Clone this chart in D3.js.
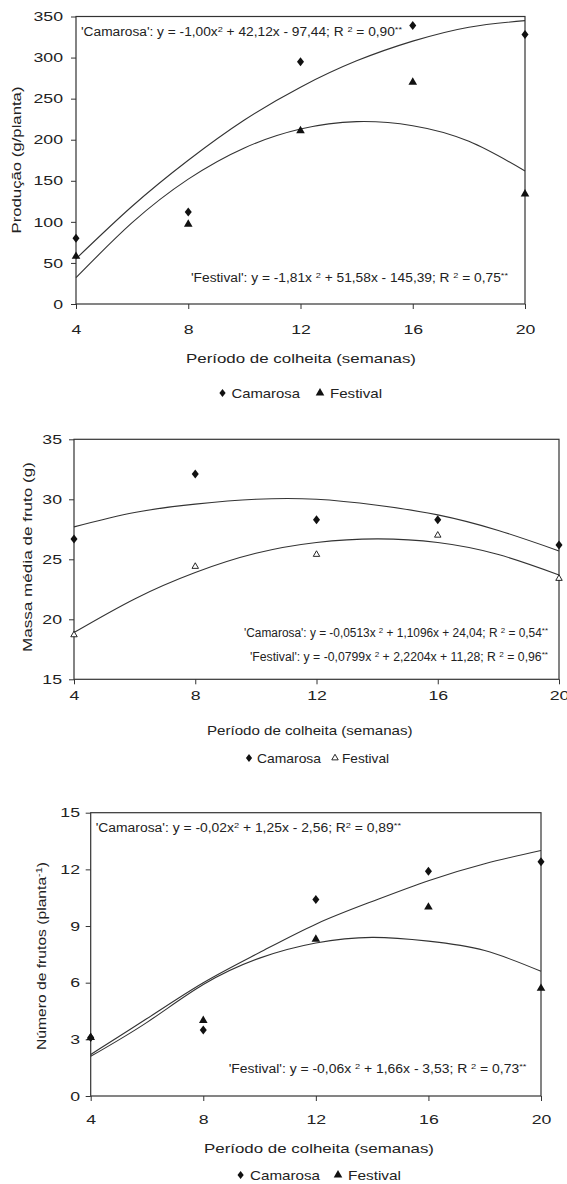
<!DOCTYPE html>
<html>
<head>
<meta charset="utf-8">
<script src="https://cdn.jsdelivr.net/npm/d3@7"></script>
<style>
  body { margin: 0; background: #fff; }
  svg text { font-family: "Liberation Sans", Arial, sans-serif; fill: #222; }
</style>
</head>
<body>
<svg id="chart" width="567" height="1184"></svg>
<script>
// weeks of harvest (x) and the points
const weeks = [4, 8, 12, 16, 20];
const fitWeeks = [4, 6, 8, 10, 12, 14, 16, 18, 20];
const xTicks = [4, 8, 12, 16, 20];

// Produção (g/planta)
const prodCamarosa = [80, 112, 295, 339, 328];
const prodFestival = [58, 97, 211, 270, 134];
const prodFitCamarosa = [55, 119, 175, 224, 264, 296, 320, 337, 345];
const prodFitFestival = [32, 99, 152, 190, 213, 222, 217, 198, 162];
const prodTicks = [0, 50, 100, 150, 200, 250, 300, 350];

// Massa média de fruto (g)
const massCamarosa = [26.7, 32.1, 28.3, 28.3, 26.2];
const massFestival = [18.7, 24.4, 25.4, 27.0, 23.4];
const massFitCamarosa = [27.7, 28.9, 29.6, 30.0, 30.0, 29.5, 28.7, 27.4, 25.7];
const massFitFestival = [18.9, 21.7, 23.9, 25.5, 26.4, 26.7, 26.4, 25.4, 23.7];
const massTicks = [15, 20, 25, 30, 35];

// Número de frutos (planta-1)
const fruitCamarosa = [3.1, 3.5, 10.4, 11.9, 12.4];
const fruitFestival = [3.1, 4.0, 8.3, 10.0, 5.7];
const fruitFitCamarosa = [2.2, 4.1, 6.0, 7.6, 9.1, 10.3, 11.4, 12.3, 13.0];
const fruitFitFestival = [2.1, 3.9, 5.9, 7.3, 8.1, 8.4, 8.2, 7.7, 6.6];
const fruitTicks = [0, 3, 6, 9, 12, 15];

const seriesNames = ['Camarosa', 'Festival'];
const xTitle = 'Período de colheita (semanas)';

// taller-than-wide diamond used by the original
const diamondTall = {
  draw(ctx, size) {
    let h = Math.sqrt(size) / 2;
    let w = h * 0.78;
    ctx.moveTo(0, -h);
    ctx.lineTo(w, 0);
    ctx.lineTo(0, h);
    ctx.lineTo(-w, 0);
    ctx.closePath();
  }
};

const svg = d3.select('#chart');

function stretch(sel, k) {
  sel.each(function () {
    let t = d3.select(this);
    t.attr('textLength', this.getComputedTextLength() * k)
      .attr('lengthAdjust', 'spacingAndGlyphs');
  });
}

function fit(t, w) {
  t.attr('textLength', w).attr('lengthAdjust', 'spacingAndGlyphs');
}

// text with superscripts; parts are strings or {s: 'sup'}
function rich_text(g, parts, size) {
  let t = g.append('text').style('font-size', size + 'px');
  let up = false;
  parts.forEach(p => {
    if (typeof p == 'string') {
      t.append('tspan').attr('dy', up ? 4 : 0).text(p);
      up = false;
    } else {
      t.append('tspan').attr('dy', up ? 0 : -4).style('font-size', (size - 4) + 'px').text(p.s);
      up = true;
    }
  });
  return t;
}

function draw_panel(p) {
  let g = svg.append('g');

  let x = d3.scaleLinear().domain([4, 20]).range([p.left, p.right]);
  let y = d3.scaleLinear().domain(p.yDomain).range([p.bottom, p.top]);

  /*
   * Axes and frame.
   */
  let ya = g.append('g')
    .attr('transform', `translate(${p.left},0)`)
    .call(d3.axisLeft(y).tickValues(p.yTicks).tickSize(5).tickPadding(p.yPad));
  ya.select('.domain').remove();
  ya.selectAll('line').style('stroke', '#333');
  ya.selectAll('text').style('font-size', '13px');
  stretch(ya.selectAll('text'), 1.36);

  let xa = g.append('g')
    .attr('transform', `translate(0,${p.bottom})`)
    .call(d3.axisBottom(x).tickValues(xTicks).tickSize(5).tickPadding(p.xPad));
  xa.select('.domain').remove();
  xa.selectAll('line').style('stroke', '#333');
  xa.selectAll('text').style('font-size', '13px');
  stretch(xa.selectAll('text'), 1.36);

  g.append('rect')
    .attr('x', p.left)
    .attr('y', p.top)
    .attr('width', p.right - p.left)
    .attr('height', p.bottom - p.top)
    .style('fill', 'none')
    .style('stroke', '#333')
    .style('stroke-width', 1.2);

  /*
   * Fitted curves.
   */
  let line = d3.line()
    .x((d, i) => x(fitWeeks[i]))
    .y(d => y(d))
    .curve(d3.curveNatural);

  [p.fitA, p.fitB].forEach(fit_vals => {
    g.append('path')
      .attr('d', line(fit_vals))
      .style('fill', 'none')
      .style('stroke', '#333')
      .style('stroke-width', 1.1);
  });

  /*
   * Points.
   */
  let dia = d3.symbol().type(diamondTall).size(81);
  let tri = d3.symbol().type(d3.symbolTriangle).size(p.openTri ? 18 : 32);

  p.ptsA.forEach((v, i) => {
    g.append('path')
      .attr('d', dia())
      .attr('transform', `translate(${x(weeks[i])},${y(v)})`)
      .style('fill', '#111');
  });
  p.ptsB.forEach((v, i) => {
    g.append('path')
      .attr('d', tri())
      .attr('transform', `translate(${x(weeks[i])},${y(v)})`)
      .style('fill', p.openTri ? '#fff' : '#111')
      .style('stroke', '#111')
      .style('stroke-width', p.openTri ? 0.9 : 0);
  });

  /*
   * Equations.
   */
  p.eqs.forEach(e => {
    let t = rich_text(g, e.parts, 12)
      .attr('x', e.x0)
      .attr('y', e.y);
    fit(t, e.x1 - e.x0);
  });

  /*
   * Titles.
   */
  let xt = g.append('text')
    .attr('x', p.xTitle.x0)
    .attr('y', p.xTitle.y)
    .style('font-size', '13px')
    .text(xTitle);
  fit(xt, p.xTitle.x1 - p.xTitle.x0);

  let yt = rich_text(g, p.yTitle.parts, 13)
    .attr('text-anchor', 'middle')
    .attr('transform', `translate(${p.yTitle.x + 4},${p.yTitle.y}) rotate(-90)`);
  fit(yt, p.yTitle.len);

  /*
   * Legend.
   */
  let lg = p.legend;
  g.append('path')
    .attr('d', d3.symbol().type(diamondTall).size(64)())
    .attr('transform', `translate(${lg.mA},${lg.y - 5})`)
    .style('fill', '#111');
  let la = g.append('text')
    .attr('x', lg.tA[0]).attr('y', lg.y)
    .style('font-size', '13px')
    .text(seriesNames[0]);
  fit(la, lg.tA[1] - lg.tA[0]);
  g.append('path')
    .attr('d', d3.symbol().type(d3.symbolTriangle).size(p.openTri ? 18 : 32)())
    .attr('transform', `translate(${lg.mB},${lg.y - 5})`)
    .style('fill', p.openTri ? '#fff' : '#111')
    .style('stroke', '#111')
    .style('stroke-width', p.openTri ? 0.9 : 0);
  let lb = g.append('text')
    .attr('x', lg.tB[0]).attr('y', lg.y)
    .style('font-size', '13px')
    .text(seriesNames[1]);
  fit(lb, lg.tB[1] - lg.tB[0]);
}

draw_panel({
  left: 76, right: 525, top: 16.5, bottom: 304,
  yDomain: [0, 350], yTicks: prodTicks, yPad: 8, xPad: 15.5,
  ptsA: prodCamarosa, ptsB: prodFestival,
  fitA: prodFitCamarosa, fitB: prodFitFestival,
  openTri: false,
  eqs: [
    { x0: 81, x1: 402, y: 36,
      parts: ["'Camarosa': y = -1,00x", { s: '2' }, ' + 42,12x - 97,44; R ', { s: '2' }, ' = 0,90', { s: '**' }] },
    { x0: 191, x1: 508, y: 282,
      parts: ["'Festival': y = -1,81x ", { s: '2' }, ' + 51,58x - 145,39; R ', { s: '2' }, ' = 0,75', { s: '**' }] }
  ],
  xTitle: { x0: 186, x1: 416, y: 363 },
  yTitle: { x: 17, y: 160, len: 147, parts: ['Produção (g/planta)'] },
  legend: { y: 398, mA: 222.5, tA: [231.5, 300], mB: 320, tB: [330, 382] }
});

draw_panel({
  left: 74, right: 559, top: 439.3, bottom: 679.3,
  yDomain: [15, 35], yTicks: massTicks, yPad: 7, xPad: 6.5,
  ptsA: massCamarosa, ptsB: massFestival,
  fitA: massFitCamarosa, fitB: massFitFestival,
  openTri: true,
  eqs: [
    { x0: 244, x1: 548, y: 637,
      parts: ["'Camarosa': y = -0,0513x ", { s: '2' }, ' + 1,1096x + 24,04; R ', { s: '2' }, ' = 0,54', { s: '**' }] },
    { x0: 250, x1: 548, y: 661,
      parts: ["'Festival': y = -0,0799x ", { s: '2' }, ' + 2,2204x + 11,28; R ', { s: '2' }, ' = 0,96', { s: '**' }] }
  ],
  xTitle: { x0: 207, x1: 412.5, y: 735 },
  yTitle: { x: 28, y: 557, len: 190, parts: ['Massa média de fruto (g)'] },
  legend: { y: 763, mA: 249, tA: [257, 321], mB: 335, tB: [342, 389] }
});

draw_panel({
  left: 90.7, right: 541, top: 812.7, bottom: 1096,
  yDomain: [0, 15], yTicks: fruitTicks, yPad: 5.7, xPad: 13.5,
  ptsA: fruitCamarosa, ptsB: fruitFestival,
  fitA: fruitFitCamarosa, fitB: fruitFitFestival,
  openTri: false,
  eqs: [
    { x0: 95.7, x1: 401, y: 832,
      parts: ["'Camarosa': y = -0,02x", { s: '2' }, ' + 1,25x - 2,56; R', { s: '2' }, ' = 0,89', { s: '**' }] },
    { x0: 228.7, x1: 526.4, y: 1073,
      parts: ["'Festival': y = -0,06x ", { s: '2' }, ' + 1,66x - 3,53; R ', { s: '2' }, ' = 0,73', { s: '**' }] }
  ],
  xTitle: { x0: 204, x1: 434, y: 1153 },
  yTitle: { x: 41.7, y: 956, len: 188, parts: ['Número de frutos (planta', { s: '-1' }, ')'] },
  legend: { y: 1180, mA: 240.6, tA: [250, 320], mB: 338, tB: [348, 401] }
});
</script>
</body>
</html>
